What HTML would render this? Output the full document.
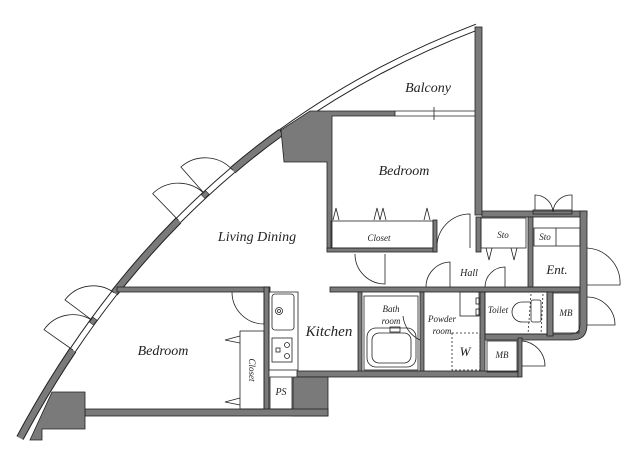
<!DOCTYPE html>
<html><head><meta charset="utf-8"><style>
html,body{margin:0;padding:0;background:#fff}
svg{display:block}
text{font-family:"Liberation Serif",serif;font-style:italic;fill:#222}
</style></head><body>
<svg width="637" height="468" viewBox="0 0 637 468" xmlns="http://www.w3.org/2000/svg">
<g fill="none" stroke-linecap="butt">
<!-- walls on curve -->
<g stroke="#222" stroke-width="8">
<path d="M20 438 Q44.8 391.8 72.9 350"/>
<path d="M114.4 292.9 Q144.8 254.4 178.5 220.3"/>
<path d="M232.7 170.2 Q256.2 150.2 280.9 132.4"/>
</g>
<g stroke="#7a7a7a" stroke-width="6">
<path d="M20 438 Q44.8 391.8 72.9 350"/>
<path d="M114.4 292.9 Q144.8 254.4 178.5 220.3"/>
<path d="M232.7 170.2 Q256.2 150.2 280.9 132.4"/>
</g>
<!-- windows -->
<g stroke="#222" stroke-width="7">
<path d="M72.9 350 Q92.8 320.4 114.4 292.9"/>
<path d="M178.5 220.3 Q204.7 193.9 232.7 170.2"/>
<path d="M280.9 132.4 Q370.1 67.7 477 27"/>
</g>
<g stroke="#fff" stroke-width="5">
<path d="M72.9 350 Q92.8 320.4 114.4 292.9"/>
<path d="M178.5 220.3 Q204.7 193.9 232.7 170.2"/>
<path d="M282 131.6 Q370.1 67.7 477 27"/>
</g>
<!-- door leaves -->
<g stroke="#222" stroke-width="0.8">
<path d="M72.9 350 L44 329.7 A35.3 35.3 0 0 1 93.2 321.1"/>
<path d="M93.2 321.1 L65 299.9 A35.3 35.3 0 0 1 114.4 292.9"/>
<path d="M178.5 220.3 L152.7 193.6 A37.1 37.1 0 0 1 205.2 194.5"/>
<path d="M205.2 194.5 L180.9 167 A36.7 36.7 0 0 1 232.7 170.2"/>
</g>
</g>
<g fill="#7a7a7a" stroke="#222" stroke-width="0.6">
<rect x="90.2" y="318.6" width="6" height="5" transform="rotate(-54 93.2 321.1)"/>
<rect x="202.2" y="192" width="6" height="5" transform="rotate(-44 205.2 194.5)"/>
</g>
<g fill="#7a7a7a" stroke="#222" stroke-width="0.8">
<path d="M281 130 L310 111 L395 111 L395 116 L332 116 L332 250 L327 250 L327 162 L284 162 Z"/>
<rect x="475" y="27" width="7" height="188"/>
<rect x="482" y="211" width="105" height="6"/>
<path d="M580 211 L587 211 L587 325 Q587 340 572 340 L480 340 L480 334 L570 334 Q580 334 580 325 Z"/>
<rect x="327" y="248" width="110" height="4"/>
<rect x="433" y="220" width="4" height="32"/>
<rect x="330" y="287" width="250" height="5"/>
<rect x="117" y="287" width="153" height="5"/>
<rect x="264" y="287" width="5" height="125"/>
<rect x="358" y="292" width="4" height="82"/>
<rect x="420" y="292" width="4" height="82"/>
<rect x="480" y="292" width="5" height="82"/>
<rect x="547" y="292" width="6" height="44"/>
<rect x="297" y="371" width="221" height="6"/>
<path d="M293 377 L328 377 L328 416 L293 416 Z"/>
<rect x="85" y="409" width="243" height="7"/>
<path d="M52 392 L85 392 L85 429 L42 429 L42 440 L30 440 Z"/>
<rect x="476" y="217" width="5" height="35"/>
<rect x="528" y="217" width="5" height="70"/>
<rect x="518" y="338" width="4" height="39"/>
</g>
<g fill="none" stroke="#222" stroke-width="0.8">
<line x1="395" y1="111" x2="475" y2="111"/><line x1="395" y1="116" x2="475" y2="116"/><line x1="434" y1="107" x2="434" y2="120"/>
<rect x="331" y="221" width="102" height="27"/>
<path d="M333 220 L336 208 L339 220 M374 220 L377 208 L380 220 M380 220 L383 208 L386 220 M424 220 L427 208 L430 220"/>
<path d="M437 248 A33 33 0 0 1 470 214 L470 248"/>
<path d="M355 254 A30 30 0 0 0 385 284 L385 254"/>
<path d="M426 287 A25 25 0 0 1 450 262 L450 287"/>
<path d="M485 287 A20 20 0 0 1 505 267 L505 287"/>
<path d="M587 248 A35 35 0 0 1 620 285 L587 285"/>
<path d="M587 297 A28 28 0 0 1 615 325 L587 325"/>
<path d="M522 341 A25 25 0 0 1 545 366 L522 366"/>
<path d="M535 210 L535 195 A18 18 0 0 1 553 212 A18 18 0 0 1 572 195 L572 210"/>
<rect x="533" y="210" width="39" height="4"/>
<path d="M232 292 A32 32 0 0 0 264 324 L264 292"/>
<path d="M403 316 A30 30 0 0 0 420 340"/>
<rect x="481" y="218" width="45" height="30"/>
<rect x="534" y="228" width="46" height="18"/><line x1="556" y1="228" x2="556" y2="246"/>
<path d="M486 248 L489 260 L492 248 M511 248 L514 260 L517 248"/>
<line x1="534" y1="287" x2="580" y2="287"/>
<rect x="269" y="292" width="29" height="78"/>
<rect x="272" y="294" width="22" height="36" rx="3"/>
<circle cx="279" cy="311" r="3.5"/><circle cx="279" cy="311" r="1.5"/>
<rect x="272" y="338" width="20" height="24"/>
<circle cx="287" cy="345" r="2.5"/><circle cx="287" cy="356" r="2.5"/><rect x="276" y="348" width="4" height="4"/>
<rect x="240" y="331" width="24" height="78"/>
<path d="M240 336 L225 340 L240 343 M240 398 L225 402 L240 405"/>
<rect x="270" y="377" width="22" height="32"/>
<rect x="364" y="296" width="54" height="74"/>
<rect x="367" y="328" width="49" height="39" rx="9"/>
<rect x="372" y="333" width="39" height="30" rx="7"/>
<rect x="390" y="327" width="10" height="5"/>
<rect x="460" y="292" width="19" height="24"/>
<rect x="476" y="298" width="4" height="6"/><rect x="476" y="309" width="4" height="6"/>
<rect x="452" y="333" width="28" height="37" stroke-dasharray="2 2"/>
<rect x="485" y="292" width="62" height="42"/>
<path d="M530 302 L522 302 A10 10 0 0 0 522 322 L530 322"/>
<rect x="531" y="300" width="10" height="22" rx="2"/>
<line x1="531" y1="294" x2="528" y2="334" stroke-dasharray="2 2"/><line x1="543" y1="294" x2="541" y2="334" stroke-dasharray="2 2"/>
<rect x="553" y="293" width="26" height="40"/>
<rect x="487" y="341" width="30" height="31"/>
</g>
<text x="428" y="92" font-size="14" text-anchor="middle">Balcony</text>
<text x="404" y="175" font-size="14" text-anchor="middle">Bedroom</text>
<text x="257" y="241" font-size="14" text-anchor="middle">Living Dining</text>
<text x="379" y="241" font-size="9" text-anchor="middle">Closet</text>
<text x="503" y="238" font-size="9" text-anchor="middle">Sto</text>
<text x="545" y="240" font-size="9" text-anchor="middle">Sto</text>
<text x="469" y="276" font-size="10" text-anchor="middle">Hall</text>
<text x="557" y="274" font-size="13" text-anchor="middle">Ent.</text>
<text x="329" y="336" font-size="15" text-anchor="middle">Kitchen</text>
<text x="163" y="355" font-size="14" text-anchor="middle">Bedroom</text>
<text x="281" y="395" font-size="10" text-anchor="middle">PS</text>
<text x="391" y="312" font-size="9" text-anchor="middle">Bath</text>
<text x="391" y="324" font-size="9" text-anchor="middle">room</text>
<text x="442" y="322" font-size="9" text-anchor="middle">Powder</text>
<text x="442" y="334" font-size="9" text-anchor="middle">room</text>
<text x="465" y="356" font-size="13" text-anchor="middle">W</text>
<text x="498" y="313" font-size="9" text-anchor="middle">Toilet</text>
<text x="566" y="316" font-size="9" text-anchor="middle">MB</text>
<text x="502" y="358" font-size="9" text-anchor="middle">MB</text>
<text x="0" y="0" font-size="9" text-anchor="middle" transform="translate(249,370) rotate(90)">Closet</text>
</svg>
</body></html>
